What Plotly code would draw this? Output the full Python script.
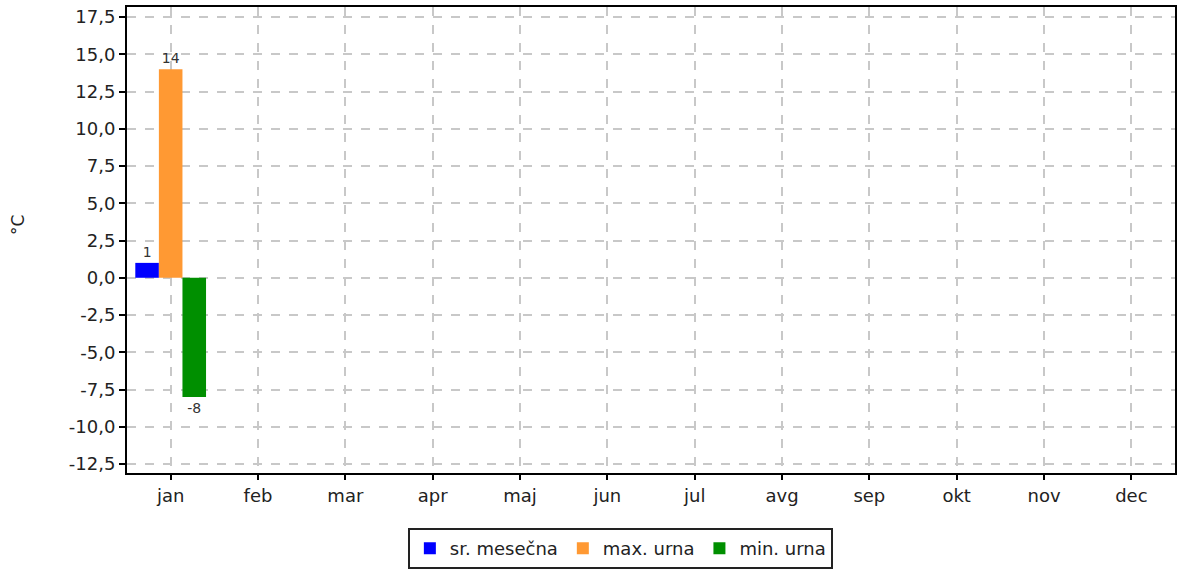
import plotly.graph_objects as go

months = ["jan", "feb", "mar", "apr", "maj", "jun", "jul", "avg", "sep", "okt", "nov", "dec"]
sr_mesecna = [1, None, None, None, None, None, None, None, None, None, None, None]
max_urna = [14, None, None, None, None, None, None, None, None, None, None, None]
min_urna = [-8, None, None, None, None, None, None, None, None, None, None, None]
y_ticks = [17.5, 15.0, 12.5, 10.0, 7.5, 5.0, 2.5, 0.0, -2.5, -5.0, -7.5, -10.0, -12.5]
y_ticktext = ["17,5", "15,0", "12,5", "10,0", "7,5", "5,0", "2,5", "0,0",
              "-2,5", "-5,0", "-7,5", "-10,0", "-12,5"]


def labels(vals):
    return ["" if v is None else str(v) for v in vals]


series = [
    ("sr. mesečna", sr_mesecna, "#0000ff"),
    ("max. urna", max_urna, "#ff9933"),
    ("min. urna", min_urna, "#008f00"),
]

data = [
    go.Bar(
        x=months, y=vals, name=name,
        marker={"color": color, "line": {"width": 0}},
        text=labels(vals), textposition="outside", cliponaxis=False,
        textfont={"size": 14, "color": "#333333"},
    )
    for name, vals, color in series
]

grid = {"showgrid": True, "gridcolor": "#c8c8c8", "griddash": "dash", "gridwidth": 1.5}

layout = go.Layout(
    width=1177, height=571,
    margin={"l": 127, "r": 2, "t": 7, "b": 96},
    paper_bgcolor="white", plot_bgcolor="white",
    font={"family": "DejaVu Sans", "size": 18, "color": "#222222"},
    barmode="group", bargap=0.19, bargroupgap=0,
    xaxis={
        **grid, "range": [-0.5, 11.5], "ticks": "outside", "ticklen": 5,
        "tickcolor": "black", "tickwidth": 2, "automargin": False,
        "showline": True, "linecolor": "black", "linewidth": 2, "mirror": True,
        "tickfont": {"size": 18},
    },
    yaxis={
        **grid, "range": [-13.1, 18.17], "tickvals": y_ticks, "ticktext": y_ticktext,
        "ticks": "outside", "ticklen": 6, "tickcolor": "black", "tickwidth": 2,
        "showline": True, "linecolor": "black", "linewidth": 2, "mirror": True,
        "zeroline": False, "automargin": False,
        "tickfont": {"size": 18},
    },
    annotations=[{
        "text": "°C", "xref": "paper", "yref": "paper", "x": -0.104, "y": 0.532,
        "xanchor": "center", "yanchor": "middle",
        "showarrow": False, "textangle": -90, "font": {"size": 17},
    }],
    legend={
        "orientation": "h", "x": 0.268, "xanchor": "left", "y": -0.118, "yanchor": "top",
        "bordercolor": "#222222", "borderwidth": 2, "font": {"size": 18},
        "itemwidth": 30,
    },
    showlegend=True,
)

fig = go.Figure(data=data, layout=layout)
fig.write_html("out.html", config={"displayModeBar": False},
               post_script="document.body.style.margin = '0';")
